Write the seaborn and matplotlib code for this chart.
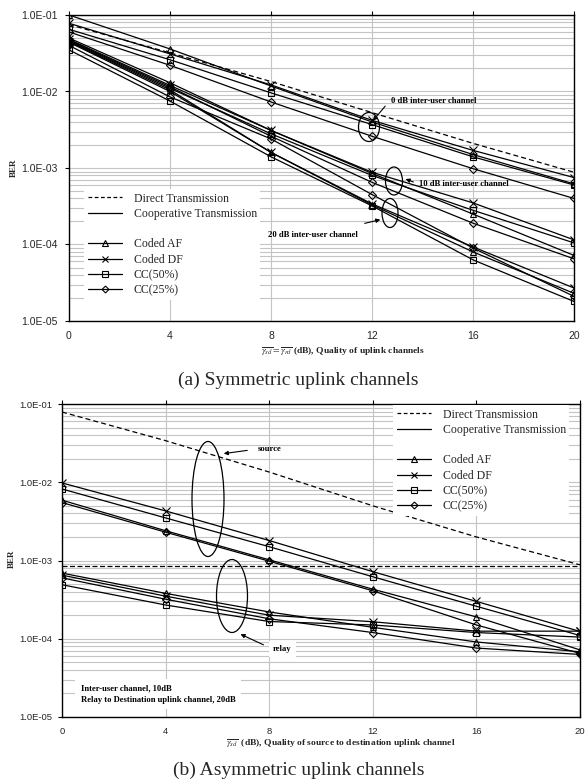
import numpy as np
import pandas as pd
import matplotlib
matplotlib.use("Agg")
import matplotlib.pyplot as plt
from matplotlib.lines import Line2D
from matplotlib.patches import Ellipse, FancyArrowPatch
from matplotlib.ticker import FixedLocator, FuncFormatter, LogLocator, NullFormatter
import seaborn as sns

# ---------------- data ----------------
snr = [0, 4, 8, 12, 16, 20]
schemes = ["Coded AF", "Coded DF", "CC(50%)", "CC(25%)"]

# (a) symmetric uplink channels
direct_a = [0.075, 0.032, 0.0135, 0.0053, 0.0021, 0.00088]
af_0 = [0.100, 0.036, 0.0118, 0.0040, 0.0015, 0.00062]
df_0 = [0.078, 0.031, 0.0122, 0.0042, 0.0017, 0.00075]
cc50_0 = [0.065, 0.026, 0.0096, 0.0037, 0.0014, 0.00060]
cc25_0 = [0.060, 0.022, 0.0073, 0.0026, 0.00098, 0.00040]
af_10 = [0.050, 0.013, 0.0031, 0.00085, 0.00025, 0.000072]
df_10 = [0.048, 0.012, 0.0031, 0.00088, 0.00035, 0.000115]
cc50_10 = [0.046, 0.011, 0.0028, 0.00080, 0.00028, 0.000105]
cc25_10 = [0.047, 0.0115, 0.0026, 0.00065, 0.00019, 0.000065]
af_20 = [0.045, 0.0105, 0.0016, 0.00033, 0.000080, 0.000023]
df_20 = [0.044, 0.0100, 0.0016, 0.00034, 0.000093, 0.000027]
cc50_20 = [0.035, 0.0075, 0.0014, 0.00032, 0.000063, 0.000018]
cc25_20 = [0.040, 0.0085, 0.0024, 0.00045, 0.000090, 0.000021]

# (b) asymmetric uplink channels
direct_b = [0.079, 0.034, 0.0135, 0.0050, 0.0020, 0.00088]
direct_relay = [0.00085, 0.00085, 0.00085, 0.00085, 0.00085, 0.00085]
src_af = [0.0059, 0.0024, 0.00102, 0.00043, 0.00019, 0.000072]
src_df = [0.0098, 0.0043, 0.0018, 0.00072, 0.00030, 0.000124]
src_cc50 = [0.0082, 0.0035, 0.0015, 0.00062, 0.00026, 0.00011]
src_cc25 = [0.0055, 0.0023, 0.00098, 0.00041, 0.00015, 0.000065]
rel_af = [0.00069, 0.00038, 0.00022, 0.00014, 0.000091, 0.000068]
rel_df = [0.00065, 0.00035, 0.00020, 0.000165, 0.000125, 0.000125]
rel_cc50 = [0.00049, 0.00027, 0.000166, 0.00015, 0.00012, 0.000105]
rel_cc25 = [0.00060, 0.00032, 0.00018, 0.00012, 0.000076, 0.000063]

y_ticks = [1e-1, 1e-2, 1e-3, 1e-4, 1e-5]
x_ticks = [0, 4, 8, 12, 16, 20]

# ---------------- style ----------------
sns.set_style("white")
plt.rcParams["font.family"] = ["Liberation Serif", "DejaVu Serif"]
plt.rcParams["mathtext.fontset"] = "stix"

W, H = 585, 781
fig = plt.figure(figsize=(W / 100, H / 100), dpi=100)

def fx(px):
    return px / W

def fy(py):
    return 1 - py / H

def P(px, py):
    return (fx(px), fy(py))

markers = {"Coded AF": "^", "Coded DF": "x", "CC(50%)": "s", "CC(25%)": "D"}
msizes = {"Coded AF": 5, "Coded DF": 5.5, "CC(50%)": 5, "CC(25%)": 4}

def make_axes(left, top, right, bottom):
    return fig.add_axes([fx(left), fy(bottom), fx(right) - fx(left), fy(top) - fy(bottom)])

def style_axes(ax, lsize, ypad):
    ax.set_yscale("log")
    ax.set_xlim(0, 20)
    ax.set_ylim(1e-5, 1e-1)
    ax.yaxis.set_major_locator(FixedLocator(y_ticks))
    ax.yaxis.set_major_formatter(FuncFormatter(lambda v, p: f"{v:.1E}"))
    ax.yaxis.set_minor_locator(LogLocator(base=10, subs=np.arange(2, 10), numticks=20))
    ax.yaxis.set_minor_formatter(NullFormatter())
    ax.xaxis.set_major_locator(FixedLocator(x_ticks))
    ax.grid(True, which="major", color="#c4c4c4", lw=0.8)
    ax.grid(True, which="minor", axis="y", color="#c4c4c4", lw=0.8)
    ax.set_axisbelow(True)
    for s in ax.spines.values():
        s.set_color("black")
        s.set_linewidth(1.0)
    ax.tick_params(axis="both", which="major", direction="out", length=3, width=0.8,
                   labelsize=lsize, top=True, left=True, bottom=False, color="black")
    ax.tick_params(axis="y", which="minor", length=0)
    ax.tick_params(axis="y", pad=ypad)
    ax.tick_params(axis="x", pad=4)
    for lab in ax.get_xticklabels() + ax.get_yticklabels():
        lab.set_fontfamily(["Liberation Sans", "DejaVu Sans"])

def draw(ax, xs, ys, scheme=None, ls="-"):
    df = pd.DataFrame({"x": xs, "y": ys})
    kw = dict(color="black", lw=0.9, linestyle=ls)
    if scheme is not None:
        kw.update(marker=markers[scheme], markersize=msizes[scheme], markerfacecolor="none",
                  markeredgecolor="black", markeredgewidth=0.8)
    sns.lineplot(data=df, x="x", y="y", ax=ax, legend=False, **kw)

def legend_handles():
    h = [Line2D([], [], color="black", lw=0.9, ls=(0, (3, 2))),
         Line2D([], [], color="black", lw=0.9),
         Line2D([], [], color="none")]
    for s in schemes:
        h.append(Line2D([], [], color="black", lw=0.9, marker=markers[s], markersize=msizes[s] - 0.5,
                        markerfacecolor="none", markeredgecolor="black", markeredgewidth=0.8))
    labels = ["Direct Transmission", "Cooperative Transmission", " "] + schemes
    return h, labels

ann_font = dict(fontsize=6.2, fontweight="bold", color="black")
arrow = dict(arrowstyle="-|>", color="black", lw=0.8, mutation_scale=6)

def add_legend(ax, anchor):
    h, l = legend_handles()
    leg = ax.legend(h, l, loc="upper left", bbox_to_anchor=anchor, bbox_transform=fig.transFigure,
                    fontsize=8.5, frameon=True, fancybox=False, edgecolor="white", framealpha=1,
                    handlelength=2.9, handletextpad=1.0, labelspacing=0.28, borderpad=0.3,
                    borderaxespad=0)
    leg.get_frame().set_linewidth(0)

def add_ellipses(items):
    for cx, cy, w, h_ in items:
        fig.add_artist(Ellipse(P(cx, cy), fx(w), h_ / H, transform=fig.transFigure,
                               fill=False, ec="black", lw=0.9))

def add_arrows(items):
    for (x0, y0), (x1, y1) in items:
        fig.add_artist(FancyArrowPatch(P(x0, y0), P(x1, y1), transform=fig.transFigure, **arrow))

# ---------------- (a) ----------------
ax1 = make_axes(69, 15, 574, 321)
style_axes(ax1, 7.5, 5)
draw(ax1, snr, direct_a, None, ls=(0, (4, 2.5)))
for arr, s in [(af_0, "Coded AF"), (df_0, "Coded DF"), (cc50_0, "CC(50%)"), (cc25_0, "CC(25%)"),
               (af_10, "Coded AF"), (df_10, "Coded DF"), (cc50_10, "CC(50%)"), (cc25_10, "CC(25%)"),
               (af_20, "Coded AF"), (df_20, "Coded DF"), (cc50_20, "CC(50%)"), (cc25_20, "CC(25%)")]:
    draw(ax1, snr, arr, s)
ax1.set_xlabel("")
ax1.set_ylabel("")
add_legend(ax1, P(84, 189))

add_ellipses([(369, 127, 21, 29), (394, 181, 17, 28), (390, 213, 16, 29)])
fig.text(*P(391, 101), "0 dB inter-user channel", va="center", ha="left", **ann_font)
fig.text(*P(419, 184), "10 dB inter-user channel", va="center", ha="left", **ann_font)
fig.text(*P(268, 235), "20 dB inter-user channel", va="center", ha="left", **ann_font)
add_arrows([((387, 104), (371, 123)), ((416, 183), (403, 178)), ((362, 224), (383, 219))])

fig.text(*P(14, 168), "BER", rotation=90, va="center", ha="center", fontsize=6.5, fontweight="bold")
fig.text(*P(343, 352), r"$\overline{\gamma_{sd}}=\overline{\gamma_{rd}}$ (dB), Quality of uplink channels",
         va="center", ha="center", fontsize=6.8, fontweight="bold")
fig.text(*P(298, 380), "(a) Symmetric uplink channels", va="center", ha="center", fontsize=14)

# ---------------- (b) ----------------
ax2 = make_axes(62, 404, 580, 717)
style_axes(ax2, 6.8, 4)
draw(ax2, snr, direct_b, None, ls=(0, (4, 2.5)))
draw(ax2, snr, direct_relay, None, ls=(0, (4, 2)))
for arr, s in [(src_af, "Coded AF"), (src_df, "Coded DF"), (src_cc50, "CC(50%)"), (src_cc25, "CC(25%)"),
               (rel_af, "Coded AF"), (rel_df, "Coded DF"), (rel_cc50, "CC(50%)"), (rel_cc25, "CC(25%)")]:
    draw(ax2, snr, arr, s)
ax2.set_xlabel("")
ax2.set_ylabel("")
add_legend(ax2, P(393, 405))

add_ellipses([(208, 499, 32, 115), (232, 596, 31, 73)])
fig.text(*P(258, 449), "source", va="center", ha="left", **ann_font)
fig.text(*P(273, 649), "relay", va="center", ha="left",
         bbox=dict(facecolor="white", edgecolor="none", pad=3), **ann_font)
add_arrows([((250, 450), (221, 454)), ((266, 646), (238, 633))])
fig.text(*P(81, 694), "Inter-user channel, 10dB\nRelay to Destination uplink channel, 20dB",
         va="center", ha="left", linespacing=1.5,
         bbox=dict(facecolor="white", edgecolor="none", pad=4), **ann_font)

fig.text(*P(12, 559), "BER", rotation=90, va="center", ha="center", fontsize=6.5, fontweight="bold")
fig.text(*P(341, 744), r"$\overline{\gamma_{sd}}$  (dB), Quality of source to destination uplink channel",
         va="center", ha="center", fontsize=6.8, fontweight="bold")
fig.text(*P(299, 770), "(b) Asymmetric uplink channels", va="center", ha="center", fontsize=14)

fig.savefig("out.png", dpi=100)
